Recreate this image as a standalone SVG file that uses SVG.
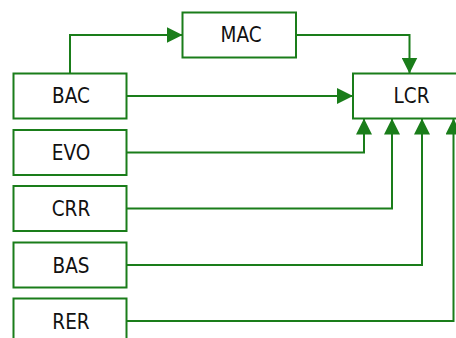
<svg xmlns="http://www.w3.org/2000/svg" width="456" height="338" viewBox="0 0 456 338">
<style>
.box{fill:#fff;stroke:#1a7d1a;stroke-width:2}
.lbl{font-family:"DejaVu Sans Condensed","DejaVu Sans",sans-serif;font-stretch:condensed;font-size:20.5px;fill:#111;text-anchor:middle}
.edge{fill:none;stroke:#1a7d1a;stroke-width:2}
</style>
<defs>
<marker id="arr" markerUnits="userSpaceOnUse" markerWidth="16" markerHeight="16" refX="16" refY="8" orient="auto">
<path d="M0,0 L16,8 L0,16 z" fill="#1a7d1a"/>
</marker>
</defs>
<rect width="456" height="338" fill="#fff"/>
<g id="connectors">
<polyline class="edge" points="70,73.5 70,35 182.5,35" marker-end="url(#arr)"/>
<polyline class="edge" points="296,35 409.5,35 409.5,73.5" marker-end="url(#arr)"/>
<polyline class="edge" points="126.5,96 353,96" marker-end="url(#arr)"/>
<polyline class="edge" points="126.5,152.5 364,152.5 364,118.5" marker-end="url(#arr)"/>
<polyline class="edge" points="126.5,208.5 392,208.5 392,118.5" marker-end="url(#arr)"/>
<polyline class="edge" points="126.5,265 422,265 422,118.5" marker-end="url(#arr)"/>
<polyline class="edge" points="126.5,321 453.5,321 453.5,118.5" marker-end="url(#arr)"/>
</g>
<g id="MAC"><rect class="box" x="182.5" y="12.5" width="113.5" height="45"/><text class="lbl" x="241" y="42">MAC</text></g>
<g id="LCR"><rect class="box" x="353" y="73.5" width="113" height="45"/><text class="lbl" x="411.5" y="103">LCR</text></g>
<g id="BAC"><rect class="box" x="13.5" y="73.5" width="113" height="45"/><text class="lbl" x="71" y="103">BAC</text></g>
<g id="EVO"><rect class="box" x="13.5" y="130" width="113" height="45"/><text class="lbl" x="71" y="160">EVO</text></g>
<g id="CRR"><rect class="box" x="13.5" y="186" width="113" height="45"/><text class="lbl" x="71" y="216">CRR</text></g>
<g id="BAS"><rect class="box" x="13.5" y="242.5" width="113" height="45"/><text class="lbl" x="71" y="272.5">BAS</text></g>
<g id="RER"><rect class="box" x="13.5" y="298.5" width="113" height="45"/><text class="lbl" x="71" y="328.5">RER</text></g>
</svg>
